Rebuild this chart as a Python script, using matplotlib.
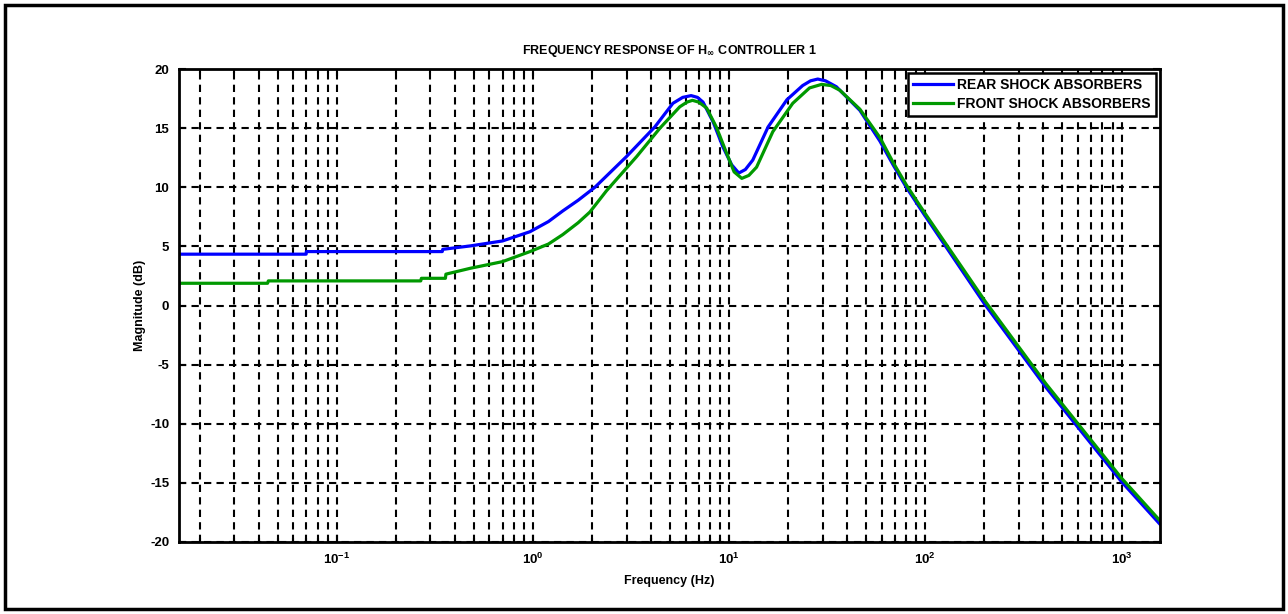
import numpy as np
import matplotlib
matplotlib.use("Agg")
from matplotlib import pyplot as plt
from matplotlib.patches import Rectangle

# values
freq_rear = [0.0157, 0.0698, 0.070, 0.345, 0.347, 0.48, 0.70, 0.966, 1.2, 1.42, 1.7, 2.07, 3.0, 4.18,
             5.17, 5.8, 6.4, 6.9, 7.36, 8.3, 9.3, 10.3, 11.2, 12.1, 13.2, 15.8, 19.7, 23.7, 26.0,
             28.3, 31.0, 35.2, 46.4, 58.7, 68.5, 80.0, 97.7, 201, 411, 1000, 1571]
mag_rear = [4.34, 4.34, 4.56, 4.56, 4.75, 5.04, 5.46, 6.24, 7.1, 8.0, 8.9, 10.0, 12.6, 15.1,
            17.1, 17.6, 17.75, 17.6, 17.2, 15.5, 13.4, 11.9, 11.2, 11.5, 12.3, 15.1, 17.4, 18.6, 19.0,
            19.15, 19.0, 18.5, 16.5, 13.9, 11.9, 10.0, 7.8, 0.1, -6.9, -14.9, -18.5]

freq_front = [0.0157, 0.0444, 0.0448, 0.268, 0.27, 0.358, 0.36, 0.48, 0.70, 0.966, 1.2, 1.42, 1.7,
              1.95, 2.37, 3.38, 4.44, 5.6, 6.1, 6.5, 7.0, 7.68, 8.6, 9.7, 10.6, 11.6, 12.6, 13.8,
              16.7, 21.1, 25.7, 29.6, 33.0, 36.7, 46.4, 58.7, 68.5, 80.0, 97.7, 201, 411, 1000, 1571]
mag_front = [1.88, 1.88, 2.08, 2.08, 2.3, 2.3, 2.65, 3.15, 3.71, 4.56, 5.2, 6.0, 7.0,
             7.9, 9.7, 12.6, 15.0, 16.8, 17.2, 17.35, 17.2, 16.7, 15.1, 12.9, 11.3, 10.75, 11.0, 11.7,
             14.7, 17.1, 18.4, 18.7, 18.6, 18.2, 16.6, 14.2, 12.1, 10.2, 8.0, 0.4, -6.6, -14.6, -18.2]

y_ticks = [-20, -15, -10, -5, 0, 5, 10, 15, 20]

plt.rcParams['font.family'] = ['Liberation Sans', 'DejaVu Sans']
plt.rcParams['font.weight'] = 'bold'
plt.rcParams['axes.unicode_minus'] = False
plt.rcParams['mathtext.default'] = 'bf'

fig = plt.figure(figsize=(12.88, 6.14), dpi=100)
ax = fig.add_axes([179 / 1288, 1 - 542 / 614, (1160 - 179) / 1288, (542 - 69) / 614])

ax.semilogx(freq_rear, mag_rear, color='#0000ff', lw=2.3, label='REAR SHOCK ABSORBERS')
ax.semilogx(freq_front, mag_front, color='#009900', lw=2.3, label='FRONT SHOCK ABSORBERS')

ax.set_xlim(0.0157, 1571)
ax.set_ylim(-20, 20)
ax.set_yticks(y_ticks)
ax.set_yticklabels([str(v) for v in y_ticks])

dash = (0, (3.5, 2.5))
ax.grid(True, which='major', axis='both', color='black', linestyle=dash, lw=1.5)
ax.grid(True, which='minor', axis='x', color='black', linestyle=dash, lw=1.5)
ax.set_axisbelow(True)

for s in ax.spines.values():
    s.set_linewidth(2)
ax.tick_params(which='both', direction='in', width=1.5, labelsize=9.5, top=True, right=True)
ax.tick_params(which='major', length=5, pad=7)
ax.tick_params(which='minor', length=3)
for lab in ax.get_xticklabels() + ax.get_yticklabels():
    lab.set_fontweight('bold')

ax.set_title(r'FREQUENCY RESPONSE OF H$_{\infty}$ CONTROLLER 1', fontsize=9, fontweight='bold', pad=11)
ax.set_xlabel('Frequency (Hz)', fontsize=9, fontweight='bold', labelpad=6)
ax.set_ylabel('Magnitude (dB)', fontsize=9, fontweight='bold', labelpad=3)

leg = ax.legend(loc='upper right', fontsize=10, frameon=True, fancybox=False, framealpha=1,
                borderaxespad=0.3, handlelength=2.9, handletextpad=0.3, borderpad=0.35,
                labelspacing=0.35)
leg.get_frame().set_edgecolor('black')
leg.get_frame().set_linewidth(1.8)
for t in leg.get_texts():
    t.set_fontweight('bold')

fig.patches.append(Rectangle((5 / 1288, 5 / 614), 1278 / 1288, 604 / 614, transform=fig.transFigure,
                             fill=False, edgecolor='black', lw=2.5))

fig.savefig('out.png', dpi=100)
